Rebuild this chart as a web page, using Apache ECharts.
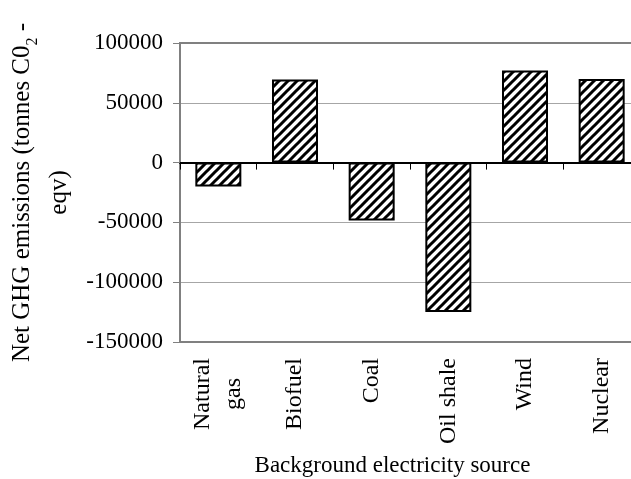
<!DOCTYPE html>
<html>
<head>
<meta charset="utf-8">
<script src="https://cdn.jsdelivr.net/npm/echarts@6/dist/echarts.min.js"></script>
<style>
html,body{margin:0;padding:0;background:#fff;}
#chart{width:631px;height:479px;}
</style>
</head>
<body>
<div id="chart"></div>
<script>
var categories = ['Natural\ngas', 'Biofuel', 'Coal', 'Oil shale', 'Wind', 'Nuclear'];
var emissions = [-20000, 69500, -48500, -125000, 77000, 70000];
var yTicks = { min: -150000, max: 100000, interval: 50000 };
var yAxisTitle = '{a|Net GHG emissions (tonnes C0}{s|2}{a| -}\n{a|eqv)}';
var xAxisTitle = 'Background electricity source';

function makeHatch() {
  var c = document.createElement('canvas');
  var s = 9;
  c.width = s; c.height = s;
  var g = c.getContext('2d');
  g.fillStyle = '#fff';
  g.fillRect(0, 0, s, s);
  g.strokeStyle = '#000';
  g.lineWidth = 3;
  g.beginPath();
  g.moveTo(-2, s + 2); g.lineTo(s + 2, -2);
  g.moveTo(-3, 3); g.lineTo(3, -3);
  g.moveTo(s - 3, s + 3); g.lineTo(s + 3, s - 3);
  g.stroke();
  return c;
}

var font = 'Liberation Serif';
var chart = echarts.init(document.getElementById('chart'), null, { renderer: 'canvas' });
chart.setOption({
  animation: false,
  backgroundColor: '#fff',
  grid: {
    left: 180, top: 43, width: 460, height: 299,
    outerBoundsMode: 'none',
    containLabel: false,
    show: true, borderColor: '#808080', borderWidth: 2, backgroundColor: 'transparent'
  },
  xAxis: [{
    type: 'category',
    data: categories,
    position: 'bottom',
    axisLine: { onZero: false, lineStyle: { color: '#808080', width: 2 } },
    axisTick: { show: false },
    axisLabel: {
      rotate: 90,
      margin: 16,
      interval: 0,
      fontFamily: font,
      fontSize: 24,
      color: '#000',
      formatter: function (v) {
        return v.split('\n').map(function (l) { return '{c|' + l + '}'; }).join('\n');
      },
      rich: { c: { align: 'center', fontFamily: font, fontSize: 24, lineHeight: 31, color: '#000' } }
    },
    name: xAxisTitle,
    nameLocation: 'middle',
    nameGap: 112,
    nameTextStyle: { fontFamily: font, fontSize: 23, color: '#000', padding: [0, 35, 0, 0] }
  }, {
    type: 'category',
    data: categories,
    position: 'bottom',
    axisLine: { onZero: true, lineStyle: { color: '#000', width: 2 } },
    axisTick: { show: true, length: 7, lineStyle: { color: '#000', width: 1 } },
    axisLabel: { show: false },
    splitLine: { show: false }
  }],
  yAxis: {
    type: 'value',
    min: yTicks.min,
    max: yTicks.max,
    interval: yTicks.interval,
    axisLine: { show: true, lineStyle: { color: '#808080', width: 2 } },
    axisTick: { show: true, length: 7, lineStyle: { color: '#808080', width: 1 } },
    axisLabel: {
      margin: 17, fontFamily: font, fontSize: 23, color: '#000',
      formatter: function (v) { return String(v); }
    },
    splitLine: { show: true, lineStyle: { color: ['#808080', '#a6a6a6', '#a6a6a6', '#a6a6a6', '#a6a6a6', '#808080'], width: 1 } },
    name: yAxisTitle,
    nameLocation: 'middle',
    nameRotate: 90,
    nameGap: 102,
    nameTextStyle: {
      rich: {
        a: { fontFamily: font, fontSize: 25, lineHeight: 37, color: '#000', align: 'center' },
        s: { fontFamily: font, fontSize: 16, lineHeight: 16, color: '#000', verticalAlign: 'bottom' }
      }
    }
  },
  series: [{
    type: 'bar',
    data: emissions,
    xAxisIndex: 0,
    barCategoryGap: '40%',
    itemStyle: {
      color: { image: makeHatch(), repeat: 'repeat' },
      borderColor: '#000',
      borderWidth: 2
    }
  }]
});
</script>
</body>
</html>
